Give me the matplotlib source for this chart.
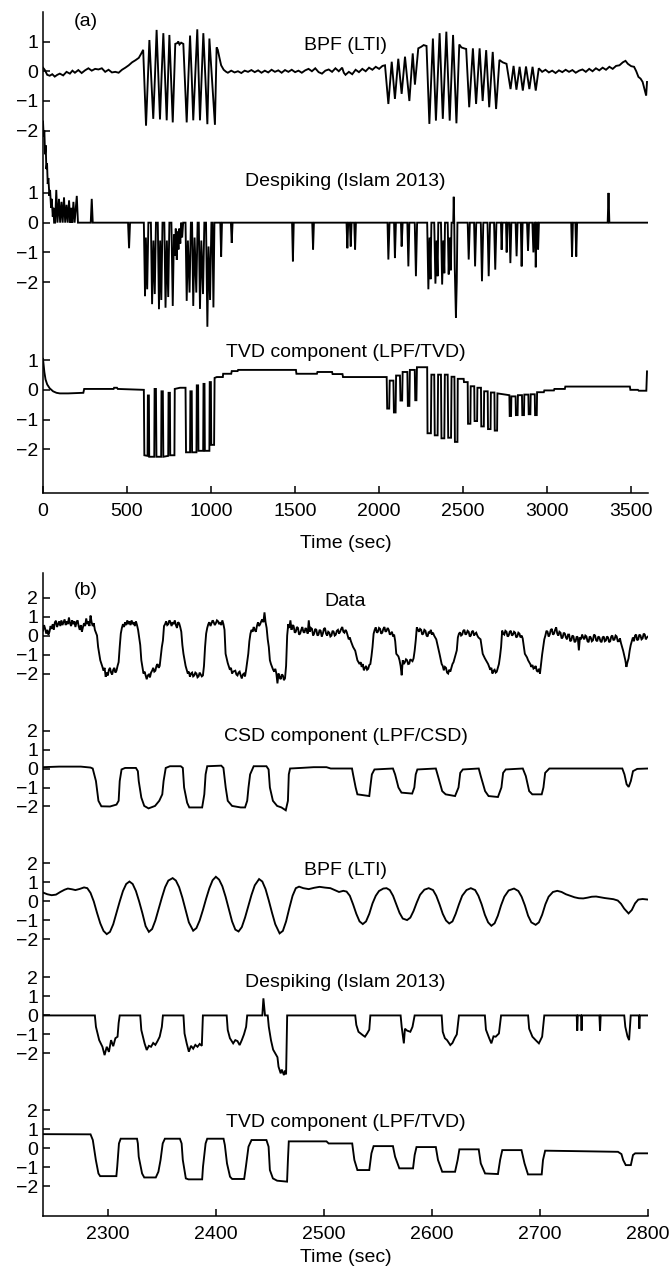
import numpy as np
import matplotlib.pyplot as plt

plt.rcParams['font.family'] = ['Liberation Sans', 'DejaVu Sans']

# ---- panel (a): whole run, (time [s], value) pairs ----
bpf_a = [
    (0, 0.12), (10, 0.05), (25, -0.12), (40, -0.15), (55, -0.1), (70, -0.18), (85, -0.12), (100, -0.08),
    (120, -0.14), (140, -0.02), (160, -0.08), (175, 0.02), (190, -0.05), (210, 0.04), (230, -0.06), (250, 0.03),
    (270, 0.1), (290, 0.02), (310, 0.08), (330, 0.06), (350, 0.1), (370, -0.02), (390, 0.05), (410, -0.04),
    (430, -0.02), (450, -0.05), (470, 0.05), (490, 0.12), (510, 0.2), (530, 0.3), (550, 0.37), (570, 0.45),
    (585, 0.6), (596, 0.72),
    (605, -0.6), (613, -1.83), (623, -0.4), (633, 1.05), (645, -0.3), (656, -1.6), (666, -0.2), (676, 1.39),
    (686, -0.1), (696, -1.62), (706, -0.1), (716, 1.28), (726, -0.2), (736, -1.65), (744, -0.2), (752, 1.22),
    (762, -0.3), (772, -1.72), (780, -0.3), (787, 0.92), (800, 0.95), (805, 1.0), (812, 0.9), (822, 0.96),
    (835, 0.92), (845, -0.4), (855, -1.72), (865, -0.2), (875, 1.2), (885, -0.2), (894, -1.65), (906, -0.1),
    (918, 1.41), (926, -0.1), (934, -1.65), (944, -0.2), (954, 1.28), (966, -0.2), (978, -1.78), (984, -0.3),
    (990, 1.1), (1006, -0.3), (1023, -1.8), (1033, 0.8), (1040, 0.72), (1050, 0.45), (1060, 0.2), (1075, 0.05),
    (1090, -0.02), (1100, -0.05), (1120, 0.02), (1140, -0.04), (1160, 0.0), (1180, -0.06), (1200, 0.02),
    (1220, -0.02), (1240, 0.04), (1260, -0.03), (1280, 0.03), (1300, -0.05), (1320, 0.02), (1340, -0.04),
    (1360, 0.05), (1380, -0.02), (1400, 0.03), (1420, -0.05), (1440, 0.04), (1460, -0.02), (1480, 0.05),
    (1500, -0.03), (1520, 0.02), (1540, -0.05), (1560, 0.03), (1580, 0.08), (1600, 0.0), (1620, 0.1),
    (1640, -0.03), (1660, -0.08), (1680, 0.02), (1700, 0.06), (1720, -0.02), (1740, 0.1), (1760, 0.0),
    (1780, 0.12), (1790, -0.05), (1800, -0.12), (1820, -0.02), (1840, -0.1), (1860, 0.05), (1880, -0.03),
    (1900, 0.08), (1920, 0.0), (1940, 0.12), (1960, 0.05), (1980, 0.15), (2000, 0.08), (2020, 0.18), (2035, 0.2),
    (2055, -1.1), (2075, 0.32), (2094, -0.93), (2114, 0.42), (2134, -0.76), (2154, 0.49), (2180, -1.0),
    (2200, 0.6), (2213, -0.45), (2233, 0.77), (2250, 0.82), (2265, 0.88), (2282, 0.85),
    (2299, -1.77), (2320, 1.1), (2338, -1.66), (2360, 1.28), (2379, -1.6), (2400, 1.33), (2420, -1.66),
    (2440, 1.22), (2460, -1.75), (2477, 0.9), (2490, 0.8), (2505, 0.77), (2518, 0.75),
    (2536, -1.21), (2558, 0.77), (2577, -1.1), (2598, 0.77), (2616, -1.0), (2637, 0.71), (2655, -1.21),
    (2676, 0.65), (2696, -1.27), (2716, 0.38), (2735, 0.3), (2758, 0.25),
    (2782, -0.6), (2800, 0.18), (2817, -0.62), (2836, 0.15), (2855, -0.65), (2874, 0.16), (2894, -0.6),
    (2913, 0.15), (2932, -0.65), (2950, 0.1),
    (2970, -0.02), (2990, 0.05), (3010, -0.04), (3030, 0.02), (3050, -0.06), (3070, 0.03), (3090, -0.03),
    (3110, 0.05), (3130, -0.02), (3150, 0.04), (3170, -0.05), (3190, 0.02), (3210, 0.06), (3230, -0.02),
    (3250, 0.08), (3270, 0.0), (3290, 0.1), (3310, 0.03), (3330, 0.12), (3350, 0.05), (3370, 0.15),
    (3390, 0.08), (3410, 0.18), (3430, 0.2), (3450, 0.3), (3466, 0.35), (3480, 0.25), (3500, 0.17),
    (3517, 0.15), (3530, 0.0), (3543, -0.19), (3556, -0.25), (3568, -0.36), (3581, -0.65), (3589, -0.82),
    (3594, -0.36),
]

despike_a = [
    (0, 3.4), (4, 2.9), (8, 3.1), (12, 2.3), (16, 2.6), (20, 1.8), (24, 2.0), (28, 1.3), (32, 1.5),
    (38, 0.9), (42, 1.1), (48, 0.5), (52, 0.8), (58, 0.2), (62, 0.5), (66, 0.0),
    (72, 0), (79, 1.1), (86, 0), (95, 0.8), (102, 0), (110, 0.7), (117, 0), (125, 0.85), (132, 0),
    (140, 0.6), (147, 0), (155, 0.75), (162, 0), (168, 0.5), (174, 0), (181, 0.7), (188, 0), (201, 0.9),
    (208, 0), (284, 0), (290, 0.8), (296, 0), (506, 0), (512, -0.86), (518, 0),
    (600, 0), (607, -2.47), (612, -0.5), (620, -2.24), (627, 0), (642, 0), (649, -2.74), (657, -0.6),
    (665, -2.4), (672, 0), (683, 0), (690, -2.91), (697, -0.6), (704, -2.6), (711, 0), (722, 0),
    (729, -2.86), (737, -0.6), (745, -2.5), (752, 0), (764, 0), (772, -2.8), (779, -0.4), (785, -1.1),
    (790, -0.2), (796, -1.25), (800, -0.3), (806, -0.9), (811, -0.2), (817, -0.7), (822, 0), (828, -0.5),
    (834, 0), (848, 0), (855, -2.63), (862, -0.6), (872, -2.35), (880, 0), (887, 0), (894, -2.8),
    (902, -0.5), (912, -2.35), (920, 0), (927, 0), (934, -2.9), (942, -0.6), (952, -2.4), (960, 0),
    (970, 0), (978, -3.5), (985, -0.8), (994, -2.6), (1002, 0), (1008, 0), (1014, -2.85), (1020, 0),
    (1055, 0), (1060, -1.14), (1065, 0), (1118, 0), (1123, -0.68), (1128, 0), (1482, 0), (1487, -1.3),
    (1492, 0), (1602, 0), (1607, -0.9), (1612, 0), (1806, 0), (1811, -0.86), (1816, 0), (1826, 0),
    (1831, -0.8), (1836, 0), (1852, 0), (1857, -0.9), (1862, 0),
    (2050, 0), (2055, -1.24), (2062, 0), (2089, 0), (2094, -1.19), (2100, 0), (2130, 0), (2134, -0.8),
    (2140, 0), (2168, 0), (2174, -1.47), (2180, 0), (2212, 0), (2219, -1.8), (2226, 0),
    (2286, 0), (2293, -2.24), (2300, -0.5), (2306, -1.9), (2311, 0), (2328, 0), (2335, -2.05),
    (2342, -0.6), (2348, -1.8), (2352, 0), (2368, 0), (2375, -2.08), (2382, -0.6), (2388, -1.7),
    (2392, 0), (2408, 0), (2414, -1.74), (2420, -0.5), (2427, -1.6), (2431, 0), (2441, 0), (2444, 0.87),
    (2447, 0), (2450, -1.5), (2457, -3.19), (2462, -2.0), (2466, 0),
    (2527, 0), (2533, -1.24), (2540, 0), (2565, 0), (2571, -1.47), (2578, 0), (2605, 0), (2612, -1.97),
    (2620, 0), (2645, 0), (2652, -1.8), (2660, 0), (2684, 0), (2691, -1.58), (2698, 0),
    (2725, 0), (2729, -0.91), (2734, 0), (2755, 0), (2759, -1.0), (2764, 0), (2775, 0), (2781, -1.36),
    (2787, 0), (2812, 0), (2818, -1.13), (2824, 0), (2843, 0), (2848, -1.47), (2854, 0), (2880, 0),
    (2886, -0.95), (2892, 0), (2912, 0), (2918, -1.0), (2924, 0), (2928, 0), (2932, -1.5), (2937, 0),
    (2942, 0), (2946, -0.9), (2951, 0),
    (3143, 0), (3148, -1.14), (3153, 0), (3168, 0), (3173, -1.14), (3178, 0), (3360, 0), (3365, 1.0),
    (3370, 0), (3600, 0),
]

tvd_a = [
    (0, 1.04), (8, 0.6), (15, 0.35), (25, 0.18), (40, 0.05), (60, -0.05), (80, -0.1), (100, -0.12),
    (150, -0.12), (240, -0.1), (245, 0.03), (420, 0.03), (423, 0.07), (440, 0.07), (445, 0.03), (600, 0.0),
    (603, -2.2), (622, -2.22), (624, -0.19), (630, -0.19), (632, -2.25), (662, -2.25), (664, 0.03),
    (672, 0.03), (675, -2.25), (703, -2.25), (705, -0.05), (713, -0.05), (716, -2.25), (745, -2.22),
    (747, -0.1), (755, -0.1), (757, -2.2), (782, -2.2), (784, 0.03), (815, 0.07), (848, 0.07),
    (851, -2.1), (875, -2.1), (877, -0.05), (885, -0.05), (887, -2.1), (913, -2.1), (915, 0.15),
    (923, 0.15), (925, -2.05), (953, -2.05), (955, 0.2), (961, 0.2), (963, -2.05), (990, -2.05),
    (992, 0.26), (999, 0.26), (1001, -1.85), (1018, -1.85), (1021, 0.4), (1034, 0.43), (1070, 0.43),
    (1072, 0.54), (1120, 0.54), (1123, 0.63), (1158, 0.63), (1161, 0.67), (1505, 0.67), (1508, 0.54),
    (1630, 0.54), (1633, 0.6), (1720, 0.6), (1723, 0.53), (1782, 0.53), (1785, 0.43), (2045, 0.43),
    (2048, -0.63), (2060, -0.63), (2063, 0.31), (2085, 0.31), (2088, -0.76), (2098, -0.76), (2101, 0.48),
    (2124, 0.48), (2127, -0.36), (2137, -0.36), (2140, 0.6), (2168, 0.6), (2171, -0.54), (2180, -0.54),
    (2183, 0.67), (2212, 0.67), (2215, -0.35), (2222, -0.35), (2225, 0.76), (2286, 0.76),
    (2288, -1.46), (2308, -1.46), (2311, 0.51), (2328, 0.51), (2331, -1.53), (2348, -1.53), (2351, 0.51),
    (2368, 0.51), (2371, -1.63), (2388, -1.63), (2391, 0.51), (2408, 0.51), (2411, -1.61), (2428, -1.61),
    (2431, 0.44), (2448, 0.44), (2451, -1.75), (2466, -1.75), (2468, 0.37), (2503, 0.37), (2505, 0.26),
    (2527, 0.26), (2529, -1.14), (2543, -1.14), (2545, 0.12), (2566, 0.12), (2568, -1.05), (2583, -1.05),
    (2585, 0.07), (2606, 0.07), (2608, -1.23), (2623, -1.23), (2625, -0.05), (2646, -0.05), (2648, -1.32),
    (2663, -1.32), (2665, -0.09), (2686, -0.09), (2688, -1.37), (2702, -1.37), (2704, -0.12), (2775, -0.18),
    (2777, -0.88), (2785, -0.88), (2787, -0.22), (2812, -0.22), (2814, -0.85), (2824, -0.85), (2826, -0.18),
    (2850, -0.18), (2852, -0.85), (2862, -0.85), (2864, -0.16), (2888, -0.16), (2890, -0.82), (2900, -0.82),
    (2902, -0.15), (2926, -0.15), (2928, -0.85), (2938, -0.85), (2940, -0.08), (2980, -0.08), (2983, -0.02),
    (3040, -0.02), (3043, 0.03), (3105, 0.03), (3108, 0.11), (3492, 0.11), (3495, 0.0), (3540, 0.0),
    (3545, -0.03), (3590, -0.03), (3594, 0.62),
]

# ---- panel (b): zoom on 2240-2800 s ----
data_b = [
    (2240, 0.26), (2241, 0.55), (2242, 0.35), (2243, 0.1), (2244, 0.3), (2245, 0.05), (2246, 0.2),
    (2247, 0.5), (2248, 0.35), (2249, 0.6), (2250, 0.3), (2251, 0.7), (2252, 0.78), (2253, 0.45),
    (2254, 0.6), (2255, 0.75), (2256, 0.5), (2257, 0.8), (2258, 0.55), (2259, 0.7), (2260, 0.85),
    (2261, 0.55), (2262, 0.75), (2263, 0.6), (2264, 0.95), (2265, 0.65), (2266, 0.5), (2267, 0.8),
    (2268, 0.6), (2269, 0.75), (2270, 0.45), (2271, 0.7), (2272, 0.8), (2273, 0.5), (2274, 0.3),
    (2275, 0.55), (2276, 0.2), (2277, 0.45), (2278, 0.65), (2279, 0.5), (2280, 0.9), (2281, 0.6),
    (2282, 0.75), (2283, 0.5), (2284, 1.05), (2285, 0.7), (2286, 0.5), (2287, 0.65), (2288, 0.3),
    (2290, 0.0), (2291, -0.6), (2293, -1.3), (2295, -1.65), (2296, -1.85), (2297, -1.7), (2298, -2.17),
    (2299, -1.95), (2300, -2.1), (2301, -1.8), (2302, -1.7), (2303, -1.95), (2304, -2.05), (2305, -1.8),
    (2306, -1.7), (2307, -1.95), (2308, -1.85), (2309, -1.6), (2310, -1.4), (2311, -0.6), (2312, 0.1),
    (2313, 0.4), (2314, 0.6), (2315, 0.45), (2316, 0.7), (2317, 0.55), (2318, 0.8), (2319, 0.6),
    (2320, 0.75), (2321, 0.55), (2322, 0.8), (2323, 0.6), (2324, 0.7), (2325, 0.5), (2326, 0.75),
    (2327, 0.55), (2328, 0.3), (2330, -0.5), (2331, -1.3), (2333, -2.0), (2334, -1.9), (2336, -2.3),
    (2337, -2.1), (2338, -2.05), (2339, -2.2), (2340, -1.95), (2341, -1.85), (2342, -1.7), (2343, -1.9),
    (2344, -1.85), (2345, -1.6), (2346, -1.5), (2347, -1.7), (2348, -1.6), (2349, -1.1), (2350, -0.6),
    (2351, -0.26), (2352, 0.5), (2353, 0.6), (2354, 0.75), (2355, 0.55), (2356, 0.6), (2357, 0.8),
    (2358, 0.7), (2359, 0.5), (2360, 0.7), (2361, 0.6), (2362, 0.8), (2363, 0.55), (2364, 0.4),
    (2365, 0.7), (2366, 0.65), (2367, 0.45), (2368, 0.2), (2369, -0.5), (2370, -0.96), (2372, -1.6),
    (2374, -2.0), (2375, -1.9), (2376, -2.17), (2377, -2.0), (2378, -1.95), (2379, -2.15), (2380, -2.1),
    (2381, -1.95), (2382, -2.0), (2383, -2.2), (2384, -2.15), (2385, -1.95), (2386, -2.05), (2387, -2.15),
    (2388, -2.1), (2389, -1.6), (2390, -0.6), (2391, 0.1), (2392, 0.4), (2393, 0.6), (2394, 0.7),
    (2395, 0.5), (2396, 0.65), (2397, 0.8), (2398, 0.7), (2399, 0.55), (2400, 0.65), (2401, 0.8),
    (2402, 0.75), (2403, 0.6), (2404, 0.7), (2405, 0.55), (2406, 0.8), (2407, 0.6), (2408, 0.3),
    (2409, -0.96), (2411, -1.45), (2413, -1.8), (2414, -1.7), (2415, -2.0), (2416, -1.9), (2418, -1.85),
    (2419, -2.05), (2420, -2.1), (2421, -1.95), (2422, -1.9), (2423, -2.1), (2424, -2.26), (2425, -2.05),
    (2426, -2.0), (2427, -2.15), (2428, -1.8), (2429, -1.4), (2430, -0.96), (2431, -0.3), (2432, 0.1),
    (2433, 0.3), (2434, 0.2), (2435, 0.45), (2436, 0.3), (2437, 0.2), (2438, 0.5), (2439, 0.7),
    (2440, 0.5), (2441, 0.6), (2442, 0.75), (2443, 0.85), (2444, 0.7), (2445, 1.22), (2446, 0.7),
    (2447, 0.4), (2448, -0.2), (2449, -0.6), (2450, -1.3), (2451, -1.5), (2452, -1.65), (2453, -1.8),
    (2454, -1.9), (2455, -1.75), (2456, -2.0), (2457, -2.52), (2458, -2.0), (2459, -2.2), (2460, -2.3),
    (2461, -2.05), (2462, -2.1), (2463, -2.35), (2464, -2.25), (2465, -1.6), (2466, 0.0), (2467, 0.6),
    (2468, 0.4), (2469, 0.8), (2470, 0.3), (2471, 0.55), (2472, 0.5), (2473, 0.15), (2474, 0.2),
    (2475, 0.45), (2476, 0.4), (2477, 0.05), (2478, 0.1), (2479, 0.3), (2480, 0.45), (2481, 0.2),
    (2482, 0.15), (2483, 0.4), (2484, 0.3), (2485, 0.1), (2486, 0.8), (2487, 0.2), (2488, 0.4),
    (2489, 0.35), (2490, 0.0), (2491, 0.1), (2492, 0.35), (2493, 0.3), (2494, 0.0), (2495, 0.05),
    (2496, 0.3), (2497, 0.25), (2498, -0.05), (2499, 0.1), (2500, 0.35), (2501, 0.4), (2502, 0.1),
    (2503, 0.0), (2504, 0.2), (2505, 0.15), (2506, -0.05), (2507, 0.0), (2508, 0.25), (2509, 0.2),
    (2510, 0.0), (2511, 0.05), (2512, 0.25), (2513, 0.3), (2514, 0.1), (2515, 0.2), (2516, 0.35),
    (2517, 0.45), (2518, 0.2), (2519, 0.15), (2520, 0.3), (2521, 0.2), (2522, 0.0), (2523, -0.2),
    (2524, -0.1), (2525, -0.3),
    (2527, -0.6), (2529, -0.8), (2531, -1.3), (2533, -1.5), (2534, -1.4), (2535, -1.65), (2536, -1.5),
    (2537, -1.83), (2538, -1.7), (2539, -1.6), (2540, -1.8), (2541, -1.75), (2542, -1.55), (2543, -1.5),
    (2544, -1.1), (2545, -0.6), (2546, 0.09), (2547, 0.3), (2548, 0.43), (2549, 0.15), (2550, 0.2),
    (2551, 0.4), (2552, 0.35), (2553, 0.1), (2554, 0.15), (2555, 0.35), (2556, 0.45), (2557, 0.2),
    (2558, 0.25), (2559, 0.4), (2560, 0.3), (2561, 0.05), (2562, 0.1), (2563, 0.2), (2564, -0.05),
    (2565, 0.05), (2566, -0.3), (2567, -0.96), (2569, -1.1), (2570, -1.3), (2571, -1.6), (2572, -2.09),
    (2573, -1.3), (2574, -1.5), (2575, -1.4), (2576, -1.25), (2577, -1.3), (2578, -1.5), (2579, -1.48),
    (2580, -1.25), (2581, -1.3), (2582, -1.35), (2583, -1.2), (2584, -0.8), (2585, -0.26), (2586, 0.43),
    (2587, 0.3), (2588, 0.2), (2589, 0.35), (2590, 0.3), (2591, 0.05), (2592, 0.1), (2593, 0.3),
    (2594, 0.25), (2595, 0.0), (2596, -0.05), (2597, 0.2), (2598, 0.15), (2599, 0.3), (2600, 0.05),
    (2601, 0.15), (2602, 0.0), (2603, -0.1), (2604, -0.2),
    (2607, -0.96), (2609, -1.5), (2610, -1.6), (2611, -1.83), (2612, -1.65), (2613, -1.7), (2614, -1.95),
    (2615, -2.0), (2616, -1.8), (2617, -1.9), (2618, -1.7), (2619, -1.5), (2620, -1.4), (2621, -1.2),
    (2622, -1.0), (2623, -0.78), (2624, -0.1), (2625, 0.1), (2626, 0.17), (2627, 0.0), (2628, 0.05),
    (2629, 0.25), (2630, 0.3), (2631, 0.05), (2632, 0.1), (2633, 0.25), (2634, 0.2), (2635, -0.05),
    (2636, 0.0), (2637, 0.2), (2638, 0.25), (2639, 0.0), (2640, 0.1), (2641, 0.15), (2642, 0.0),
    (2643, -0.1), (2644, -0.15), (2645, -0.2),
    (2647, -0.96), (2649, -1.2), (2650, -1.3), (2652, -1.5), (2653, -1.65), (2654, -1.8), (2655, -1.7),
    (2656, -2.0), (2657, -1.85), (2658, -1.8), (2659, -1.95), (2660, -1.9), (2661, -1.7), (2662, -1.5),
    (2663, -1.1), (2664, -0.6), (2665, 0.26), (2666, 0.1), (2667, 0.05), (2668, 0.25), (2669, 0.2),
    (2670, -0.05), (2671, 0.0), (2672, 0.2), (2673, 0.25), (2674, 0.0), (2675, 0.05), (2676, 0.2),
    (2677, 0.15), (2678, -0.1), (2679, -0.05), (2680, 0.15), (2681, 0.1), (2682, -0.1), (2683, 0.0),
    (2684, -0.15),
    (2686, -0.96), (2688, -1.15), (2689, -1.3), (2691, -1.5), (2692, -1.65), (2693, -1.55), (2694, -1.74),
    (2695, -1.7), (2696, -1.6), (2697, -1.85), (2698, -1.91), (2699, -1.75), (2700, -2.0), (2701, -1.5),
    (2702, -1.0), (2703, -0.6), (2704, -0.2), (2705, 0.0), (2706, 0.25), (2707, 0.2), (2708, -0.05),
    (2709, 0.05), (2710, 0.3), (2711, 0.35), (2712, 0.05), (2713, 0.1), (2714, 0.3), (2715, 0.43),
    (2716, 0.1), (2717, 0.0), (2718, 0.2), (2719, 0.15), (2720, -0.15), (2721, -0.1), (2722, 0.15),
    (2723, 0.1), (2724, -0.1), (2725, -0.2), (2726, 0.05), (2727, 0.05), (2728, -0.3), (2729, -0.25),
    (2730, 0.0), (2731, -0.05), (2732, -0.35), (2733, -0.3), (2734, -0.05), (2735, -0.1), (2736, -0.78),
    (2737, -0.1), (2738, -0.2), (2739, 0.05), (2740, -0.1), (2741, -0.2), (2742, 0.0), (2743, -0.05),
    (2744, -0.3), (2745, -0.35), (2746, -0.05), (2747, -0.1), (2748, -0.3), (2749, -0.25), (2750, 0.05),
    (2751, 0.0), (2752, -0.25), (2753, -0.3), (2754, -0.05), (2755, -0.1), (2756, -0.3), (2757, -0.35),
    (2758, -0.1), (2759, -0.05), (2760, -0.3), (2761, -0.26), (2762, -0.05), (2763, -0.1), (2764, -0.35),
    (2765, -0.3), (2766, -0.05), (2767, 0.0), (2768, -0.25), (2769, -0.2), (2770, 0.0), (2771, -0.05),
    (2772, -0.3), (2773, -0.3), (2774, -0.15), (2775, -0.4), (2777, -0.8), (2779, -1.3), (2780, -1.65),
    (2781, -1.4), (2782, -1.2), (2783, -0.8), (2784, -0.5), (2785, -0.3), (2786, -0.1), (2787, -0.3),
    (2788, 0.0), (2789, 0.05), (2790, -0.25), (2791, -0.2), (2792, 0.05), (2793, 0.0), (2794, -0.2),
    (2795, -0.15), (2796, 0.1), (2797, 0.05), (2798, -0.2), (2799, -0.1), (2800, -0.05),
]

csd_b = [
    (2240, 0.07), (2255, 0.1), (2275, 0.1), (2284, 0.05), (2286, 0.0), (2289, -0.66), (2291.3, -1.7),
    (2294, -1.99), (2302, -2.0), (2308, -1.9), (2310, -1.7), (2311, -0.66), (2312.7, -0.05), (2316, 0.03),
    (2326, 0.03), (2327.8, -0.14), (2328.6, -0.66), (2331, -1.53), (2333.7, -1.97), (2337.7, -2.1),
    (2343.7, -1.97), (2347.6, -1.7), (2350.4, -1.36), (2351.6, -0.66), (2353.6, 0.03), (2357.5, 0.12),
    (2367.5, 0.12), (2369.4, 0.03), (2370.6, -1.0), (2373.4, -1.8), (2375.4, -2.05), (2387.3, -2.05),
    (2389.3, -1.36), (2390.5, -0.31), (2392, 0.12), (2405, 0.15), (2407, 0.03), (2409.1, -1.0), (2411, -1.7),
    (2415, -1.97), (2423, -2.05), (2427, -2.05), (2429, -1.7), (2430.2, -1.0), (2431.7, -0.31), (2435, 0.12),
    (2446.8, 0.12), (2448.8, -0.05), (2450, -1.0), (2452.8, -1.7), (2456.7, -1.97), (2460.7, -2.05),
    (2464.7, -2.2), (2466.7, -1.7), (2467.5, -0.31), (2468.7, 0.0), (2478.6, 0.03), (2490.5, 0.07),
    (2502.4, 0.07), (2506.3, 0.0), (2526, 0.0), (2527, -0.31), (2529.4, -1.0), (2531, -1.36), (2542, -1.45),
    (2542.9, -1.0), (2544.4, -0.31), (2546.8, -0.05), (2563.9, 0.0), (2565.9, -0.31), (2569, -1.0),
    (2571.8, -1.27), (2581.7, -1.32), (2583.7, -1.0), (2585, -0.31), (2586.5, -0.05), (2603.6, 0.0),
    (2605.6, -0.4), (2609.5, -1.19), (2612.7, -1.36), (2621.4, -1.45), (2624.6, -1.0), (2626.2, -0.23),
    (2628.6, -0.05), (2643.3, 0.0), (2645.2, -0.4), (2649.2, -1.19), (2652.4, -1.45), (2661.1, -1.5),
    (2664.3, -1.0), (2665.9, -0.23), (2668.3, -0.05), (2684.1, 0.0), (2686.9, -0.4), (2690, -1.19),
    (2692.9, -1.36), (2701.6, -1.36), (2703.2, -1.0), (2704.8, -0.23), (2708.7, 0.0), (2776.2, 0.0),
    (2778.2, -0.31), (2780.2, -0.83), (2782.1, -0.97), (2784.1, -0.66), (2786.1, -0.14), (2790, -0.02),
    (2800, 0.0),
]

bpf_b = [
    (2240, 0.47), (2244, 0.38), (2248, 0.33), (2252, 0.36), (2256, 0.5), (2260, 0.62), (2263, 0.68),
    (2267, 0.64), (2270, 0.6), (2274, 0.66), (2278, 0.74), (2281, 0.7), (2284, 0.45), (2287, 0.0),
    (2290, -0.6), (2293, -1.15), (2296, -1.55), (2299, -1.72), (2302, -1.6), (2305, -1.2), (2308, -0.6),
    (2311, 0.0), (2314, 0.55), (2317, 0.92), (2320, 1.05), (2323, 0.92), (2326, 0.55), (2329, 0.0),
    (2332, -0.62), (2335, -1.3), (2338, -1.6), (2341, -1.45), (2344, -1.0), (2347, -0.4), (2350, 0.2),
    (2353, 0.75), (2356, 1.1), (2360, 1.23), (2363, 1.1), (2366, 0.75), (2369, 0.2), (2372, -0.45),
    (2375, -1.1), (2379, -1.54), (2382, -1.4), (2385, -1.0), (2388, -0.45), (2391, 0.15), (2394, 0.7),
    (2397, 1.12), (2400, 1.3), (2403, 1.15), (2406, 0.8), (2409, 0.25), (2412, -0.4), (2415, -1.05),
    (2418, -1.48), (2421, -1.58), (2424, -1.35), (2427, -0.85), (2430, -0.25), (2433, 0.35), (2436, 0.85),
    (2440, 1.18), (2443, 1.05), (2446, 0.65), (2449, 0.05), (2452, -0.6), (2455, -1.2), (2459, -1.68),
    (2462, -1.55), (2465, -1.05), (2468, -0.35), (2471, 0.3), (2474, 0.7), (2477, 0.78), (2481, 0.7),
    (2486, 0.65), (2491, 0.72), (2496, 0.77), (2501, 0.73), (2506, 0.7), (2510, 0.6), (2514, 0.5),
    (2518, 0.56), (2521, 0.52), (2524, 0.3), (2527, -0.15), (2530, -0.65), (2533, -1.05), (2536, -1.19),
    (2539, -1.05), (2542, -0.65), (2545, -0.1), (2548, 0.3), (2551, 0.55), (2555, 0.68), (2558, 0.7),
    (2561, 0.6), (2564, 0.3), (2567, -0.15), (2570, -0.6), (2573, -0.9), (2577, -0.98), (2580, -0.85),
    (2583, -0.5), (2586, -0.05), (2589, 0.35), (2593, 0.62), (2597, 0.7), (2601, 0.6), (2604, 0.3),
    (2607, -0.15), (2610, -0.65), (2613, -1.0), (2616, -1.16), (2619, -1.05), (2622, -0.65), (2625, -0.15),
    (2628, 0.3), (2632, 0.6), (2636, 0.7), (2640, 0.6), (2643, 0.3), (2646, -0.15), (2649, -0.7),
    (2652, -1.1), (2655, -1.28), (2658, -1.15), (2661, -0.75), (2664, -0.2), (2667, 0.25), (2671, 0.58),
    (2676, 0.68), (2680, 0.55), (2683, 0.25), (2686, -0.2), (2689, -0.75), (2692, -1.1), (2696, -1.23),
    (2699, -1.1), (2702, -0.7), (2705, -0.15), (2708, 0.25), (2712, 0.5), (2716, 0.56), (2720, 0.5),
    (2724, 0.38), (2728, 0.3), (2732, 0.22), (2736, 0.17), (2740, 0.16), (2744, 0.2), (2748, 0.25),
    (2752, 0.26), (2756, 0.22), (2760, 0.18), (2764, 0.15), (2768, 0.12), (2772, 0.05), (2775, -0.12),
    (2778, -0.38), (2782, -0.63), (2785, -0.45), (2788, -0.1), (2791, 0.1), (2795, 0.13), (2800, 0.1),
]

despike_b = [
    (2240, 0), (2288, 0), (2289, -0.6), (2292, -1.3), (2295, -1.65), (2297, -2.09), (2299, -1.65),
    (2301, -1.92), (2303, -1.3), (2305, -1.62), (2307, -1.2), (2309, -1.12), (2310, -0.4), (2311, 0),
    (2330, 0), (2331, -0.77), (2334, -1.47), (2336, -1.82), (2338, -1.6), (2340, -1.65), (2342, -1.45),
    (2344, -1.55), (2346, -1.35), (2348, -1.12), (2350, -0.6), (2351, 0), (2370, 0), (2371, -0.95),
    (2373, -1.47), (2375, -1.91), (2377, -1.6), (2379, -1.75), (2381, -1.55), (2383, -1.65), (2385, -1.5),
    (2387, -1.6), (2388, 0), (2410, 0), (2411, -0.77), (2413, -1.2), (2416, -1.47), (2418, -1.3),
    (2420, -1.35), (2422, -1.56), (2424, -1.3), (2426, -1.0), (2428, -0.6), (2429, 0), (2443, 0),
    (2444, 0.9), (2445.5, 0), (2448, 0), (2449, -0.6), (2451, -1.3), (2453, -1.8), (2455, -2.0),
    (2457, -2.2), (2458, -2.7), (2460, -3.05), (2461, -2.85), (2463, -3.14), (2464, -2.9), (2465, -3.1),
    (2466, 0), (2529, 0), (2530, -0.5), (2532, -0.86), (2534, -0.95), (2536, -1.04), (2538, -1.12),
    (2540, -0.95), (2542, -0.75), (2543, 0), (2571, 0), (2572, -0.6), (2574, -1.47), (2575, -0.7),
    (2577, -0.8), (2580, -0.86), (2582, -0.6), (2584, 0), (2609, 0), (2610, -0.86), (2612, -1.2),
    (2614, -1.3), (2617, -1.56), (2619, -1.45), (2621, -1.2), (2623, -1.0), (2625, 0), (2649, 0),
    (2650, -0.75), (2653, -1.2), (2655, -1.47), (2657, -1.1), (2659, -1.12), (2662, -0.95), (2664, 0),
    (2689, 0), (2690, -0.7), (2693, -1.12), (2696, -1.3), (2699, -1.47), (2702, -1.12), (2704, 0),
    (2734, 0), (2734.5, -0.8), (2735, 0), (2738, 0), (2738.5, -0.8), (2739, 0), (2755, 0), (2755.6, -0.8),
    (2756.2, 0), (2778, 0), (2779, -0.6), (2781, -1.1), (2782.5, -1.3), (2784, 0), (2791.5, 0),
    (2792, -0.7), (2792.5, 0), (2800, 0),
]

tvd_b = [
    (2240, 0.75), (2284, 0.74), (2286.1, 0.44), (2288.9, -0.61), (2291.3, -1.32), (2292.9, -1.46),
    (2307.9, -1.46), (2308.7, -0.96), (2310.3, 0.26), (2311.9, 0.51), (2327, 0.51), (2327.8, 0.26),
    (2328.6, -0.44), (2331.7, -1.32), (2333.7, -1.53), (2344.4, -1.53), (2346.8, -1.23), (2348.8, -0.61),
    (2350.8, 0.26), (2352.8, 0.51), (2366.7, 0.51), (2368.3, 0.26), (2369.4, -0.61), (2372.2, -1.58),
    (2374.6, -1.63), (2387.3, -1.63), (2388.1, -0.96), (2390.5, 0.26), (2392, 0.51), (2407.1, 0.51),
    (2408.3, 0.18), (2410.3, -0.79), (2413.1, -1.49), (2415.1, -1.61), (2426.2, -1.61), (2427.8, -0.96),
    (2430.2, 0.09), (2433, 0.44), (2446.8, 0.44), (2448.8, 0.09), (2450, -1.14), (2452.8, -1.58),
    (2456.7, -1.7), (2465.9, -1.75), (2466.7, -0.61), (2467.5, 0.37), (2502.4, 0.37), (2504.4, 0.26),
    (2526.2, 0.26), (2528.2, -0.61), (2531, -1.14), (2542, -1.14), (2544, -0.26), (2546, 0.12),
    (2563.9, 0.12), (2565.9, -0.44), (2569.8, -1.05), (2582.5, -1.05), (2584, -0.35), (2585.7, 0.07),
    (2603.6, 0.07), (2605.6, -0.61), (2609.5, -1.23), (2621.4, -1.23), (2623.8, -0.61), (2625.4, -0.05),
    (2643.3, -0.05), (2645.2, -0.79), (2649.2, -1.32), (2661.1, -1.35), (2663.1, -0.61), (2665.1, -0.09),
    (2682.9, -0.09), (2685.7, -0.79), (2688.9, -1.37), (2701.6, -1.37), (2702.8, -0.61), (2704.8, -0.12),
    (2728.6, -0.14), (2772.2, -0.18), (2775.4, -0.3), (2777, -0.61), (2779.4, -0.88), (2784.1, -0.88),
    (2786.1, -0.35), (2788.1, -0.26), (2800, -0.26),
]

names_a = ['BPF (LTI)', 'Despiking (Islam 2013)', 'TVD component (LPF/TVD)']
names_b = ['Data', 'CSD component (LPF/CSD)', 'BPF (LTI)', 'Despiking (Islam 2013)',
           'TVD component (LPF/TVD)']
yticks_a = [1, 0, -1, -2]
yticks_b = [2, 1, 0, -1, -2]
xticks_a = [0, 500, 1000, 1500, 2000, 2500, 3000, 3500]
xticks_b = [2300, 2400, 2500, 2600, 2700, 2800]

FS = 14


def fmt(v):
    return str(v) if v >= 0 else '\u2212' + str(-v)


def panel(ax, traces, names, offsets, name_dy, yticks, xticks, xlim, ylim, tag, tag_y, xlab_y):
    ticks, labels = [], []
    for tr, name, off, dy in zip(traces, names, offsets, name_dy):
        t, v = np.array(tr).T
        ax.plot(t, v + off, color='black', lw=1.35, solid_joinstyle='miter')
        ax.text(sum(xlim) / 2, off + dy, name, ha='center', va='center', fontsize=FS)
        for k in yticks:
            ticks.append(off + k)
            labels.append(fmt(k))
    ax.set_yticks(ticks)
    ax.set_yticklabels(labels)
    ax.set_xticks(xticks)
    ax.set_xlim(*xlim)
    ax.set_ylim(*ylim)
    for s in ['top', 'right']:
        ax.spines[s].set_visible(False)
    for s in ['left', 'bottom']:
        ax.spines[s].set_linewidth(1.1)
    ax.tick_params(axis='both', direction='in', length=5, width=1.1, labelsize=FS)
    ax.tick_params(axis='y', pad=3.5)
    ax.tick_params(axis='x', pad=7)
    ax.text(0.07, tag_y, tag, transform=ax.transAxes, ha='center', va='center', fontsize=FS)
    ax.set_xlabel('Time (sec)', fontsize=FS)
    ax.xaxis.set_label_coords(0.5, xlab_y)


def main():
    fig = plt.figure(figsize=(6.72, 12.78), dpi=100)
    ax_a = fig.add_axes([0.064, 0.6142, 0.9003, 0.3766])
    ax_b = fig.add_axes([0.064, 0.0485, 0.9003, 0.5031])

    panel(ax_a, [bpf_a, despike_a, tvd_a], names_a, [0, -5.09, -10.71], [0.87, 1.37, 1.27],
          yticks_a, xticks_a, (0, 3600), (-14.18, 2.0), '(a)', 0.979, -0.088)
    panel(ax_b, [data_b, csd_b, bpf_b, despike_b, tvd_b], names_b, [0, -7, -14, -20, -27],
          [1.78, 1.66, 1.64, 1.73, 1.37], yticks_b, xticks_b, (2240, 2800), (-30.56, 3.29),
          '(b)', 0.9736, -0.052)

    fig.savefig('out.png', dpi=100)


if __name__ == '__main__':
    main()
